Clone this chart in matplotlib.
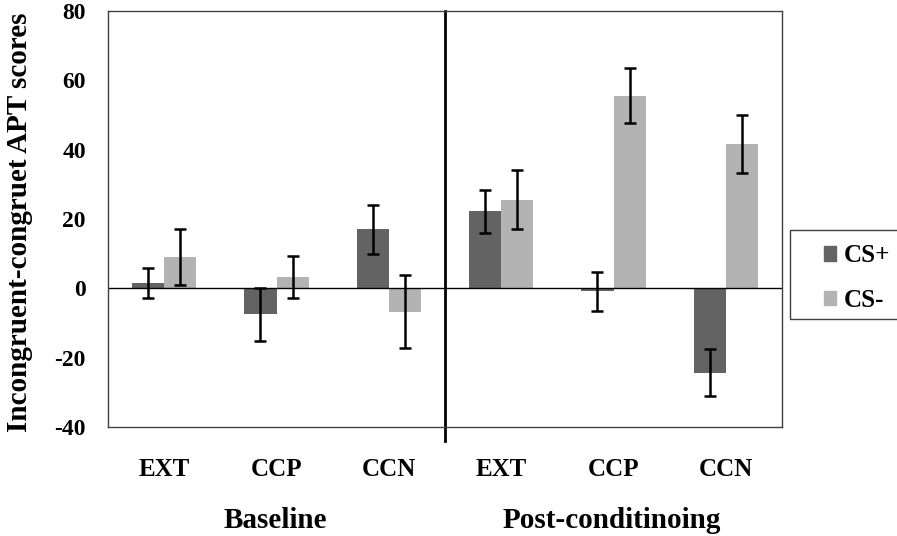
import numpy as np
from matplotlib import pyplot as plt
from matplotlib.patches import Patch, Rectangle

# Data
conds = ["EXT", "CCP", "CCN", "EXT", "CCP", "CCN"]
phases = ["Baseline", "Post-conditinoing"]
cs_plus = [1.5, -7.5, 17.0, 22.2, -0.9, -24.3]
cs_plus_err = [4.3, 7.6, 7.0, 6.3, 5.6, 6.8]
cs_minus = [9.0, 3.3, -6.7, 25.5, 55.6, 41.6]
cs_minus_err = [8.1, 6.0, 10.5, 8.5, 8.0, 8.3]

dark = "#636363"
light = "#b3b3b3"

plt.rcParams['font.family'] = ['Liberation Serif', 'DejaVu Serif']
plt.rcParams['font.weight'] = 'bold'
plt.rcParams['axes.unicode_minus'] = False

fig = plt.figure(figsize=(8.97, 5.36), dpi=100)
ax = fig.add_axes([108/897, 1-427/536, (782-108)/897, (427-11)/536])

x = np.arange(len(conds))
w = 0.285
ekw = dict(ecolor="black", elinewidth=1.8, capsize=4.5, capthick=1.8)
ax.bar(x - w/2, cs_plus, w, color=dark, yerr=cs_plus_err, error_kw=ekw)
ax.bar(x + w/2, cs_minus, w, color=light, yerr=cs_minus_err, error_kw=ekw)

ax.axhline(0, color="black", lw=1)
# divider between the two phases
ax.plot([2.5, 2.5], [80, -44], color="black", lw=2, clip_on=False)

ax.set_xlim(-0.5, 5.5)
ax.set_ylim(-40, 80)
ax.set_yticks(range(-40, 81, 20))
ax.set_xticks(x)
ax.set_xticklabels(conds)
ax.tick_params(axis="both", length=0)
ax.tick_params(axis="x", pad=22, labelsize=18)
ax.tick_params(axis="y", pad=16, labelsize=17)
for s in ax.spines.values():
    s.set_color("#404040")
    s.set_linewidth(1)

fig.text(20/897, 1-222/536, "Incongruent-congruet APT scores", rotation=90,
         ha="center", va="center", fontsize=21, fontweight="bold")

fig.text(275/897, 1-521/536, phases[0], ha="center", va="center", fontsize=21, fontweight="bold")
fig.text(612/897, 1-521/536, phases[1], ha="center", va="center", fontsize=21, fontweight="bold")

# legend box runs off the right edge
fig.patches.append(Rectangle((790/897, 1-319/536), 120/897, 89/536, transform=fig.transFigure,
                             fill=False, edgecolor="#404040", lw=1))
handles = [Patch(color=dark, label="CS+"), Patch(color=light, label="CS-")]
fig.legend(handles=handles, loc="upper left", bbox_to_anchor=(811/897, 1-232/536),
           fontsize=18, frameon=False, borderpad=0,
           handlelength=0.5, handleheight=0.5, handletextpad=0.3,
           labelspacing=0.85)

fig.savefig("out.png", dpi=100)
